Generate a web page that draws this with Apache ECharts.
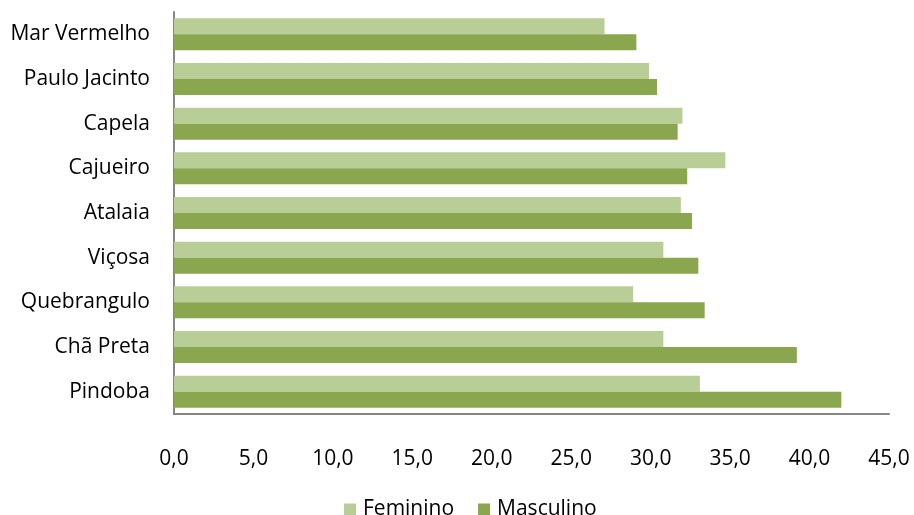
<!DOCTYPE html>
<html>
<head>
<meta charset="utf-8">
<script src="https://cdn.jsdelivr.net/npm/echarts@6/dist/echarts.min.js"></script>
<style>
  html, body { margin: 0; padding: 0; background: #fff; }
  #chart { width: 914px; height: 515px; }
</style>
</head>
<body>
<div id="chart"></div>
<script>
let categories = ['Mar Vermelho', 'Paulo Jacinto', 'Capela', 'Cajueiro', 'Atalaia', 'Viçosa', 'Quebrangulo', 'Chã Preta', 'Pindoba'];
let feminino = [27.1, 29.9, 32.0, 34.7, 31.9, 30.8, 28.9, 30.8, 33.1];
let masculino = [29.1, 30.4, 31.7, 32.3, 32.6, 33.0, 33.4, 39.2, 42.0];

let chartDom = document.getElementById('chart');
let barChart = echarts.init(chartDom);

const fontFamily = '"Open Sans", sans-serif';

let option = {
  animation: false,
  grid: { left: 174, right: 25, top: 12, bottom: 101 },
  legend: {
    top: 494,
    left: 339,
    itemWidth: 12,
    itemHeight: 12,
    itemGap: 24,
    icon: 'rect',
    textStyle: { fontSize: 21, color: '#000', fontFamily: fontFamily, padding: [0, 0, 0, 2] },
    data: ['Feminino', 'Masculino']
  },
  xAxis: {
    type: 'value',
    min: 0,
    max: 45,
    interval: 5,
    axisLine: { show: true, lineStyle: { color: '#868686', width: 2 } },
    axisTick: { show: false },
    splitLine: { show: false },
    axisLabel: {
      margin: 35,
      fontSize: 21,
      color: '#000',
      fontFamily: fontFamily,
      formatter: (v) => v.toFixed(1).replace('.', ',')
    }
  },
  yAxis: {
    type: 'category',
    inverse: true,
    data: categories,
    axisLine: { show: true, lineStyle: { color: '#868686', width: 2 } },
    axisTick: { show: false },
    axisLabel: { margin: 24, fontSize: 21, color: '#000', fontFamily: fontFamily }
  },
  series: [
    {
      name: 'Feminino',
      type: 'bar',
      data: feminino,
      barWidth: 16,
      barGap: '0%',
      itemStyle: { color: '#B9CE97' }
    },
    {
      name: 'Masculino',
      type: 'bar',
      data: masculino,
      barWidth: 16,
      barGap: '0%',
      itemStyle: { color: '#8AA64E' }
    }
  ]
};

barChart.setOption(option);
</script>
</body>
</html>
